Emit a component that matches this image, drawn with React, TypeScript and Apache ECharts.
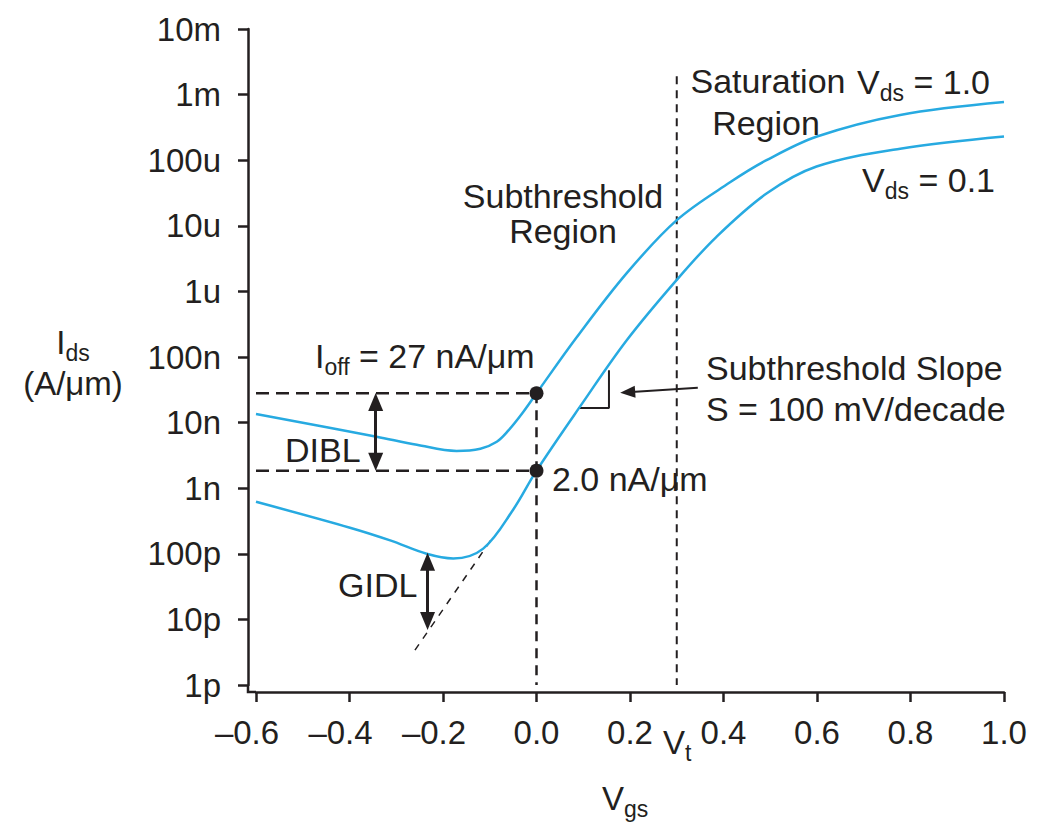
import React, { useEffect, useRef } from 'react';
import * as echarts from 'echarts';

// ---- data ----
const vgsVds10 = [-0.6, -0.342, -0.256, -0.171, -0.12, -0.085, -0.06, -0.03, 0, 0.086, 0.193, 0.3, 0.414, 0.492, 0.6, 0.778, 1.0];
const idsVds10 = [1.35e-8, 6.1e-9, 4.6e-9, 3.7e-9, 4.0e-9, 5.1e-9, 7.6e-9, 1.4e-8, 2.8e-8, 2.0e-7, 1.9e-6, 1.22e-5, 4.6e-5, 1.0e-4, 2.3e-4, 4.9e-4, 7.7e-4];

const vgsVds01 = [-0.6, -0.399, -0.313, -0.235, -0.178, -0.114, -0.05, 0, 0.093, 0.193, 0.3, 0.385, 0.492, 0.599, 0.778, 1.0];
const idsVds01 = [6.2e-10, 2.5e-10, 1.6e-10, 1.0e-10, 8.5e-11, 1.2e-10, 4.7e-10, 1.85e-9, 1.75e-8, 1.8e-7, 1.5e-6, 6.8e-6, 3.1e-5, 8.0e-5, 1.5e-4, 2.3e-4];

const yTickLabels = ['1p', '10p', '100p', '1n', '10n', '100n', '1u', '10u', '100u', '1m', '10m'];
const yMin = 1e-12;
const yMax = 1e-2;
const xMin = -0.6;
const xMax = 1.0;
const xStep = 0.2;

// annotation values (data space)
const iOffVds10 = 2.8e-8;
const iOffVds01 = 1.85e-9;
const vt = 0.3;
const vtTop = 1.9e-3;
const diblV = -0.344;
const gidlV = -0.233;
const gidlTop = 1.03e-10;
const gidlBottom = 6.9e-12;
const gidlTangentV = [-0.26, -0.098];
const gidlTangentI = [3.4e-12, 1.6e-10];
const slopeTriV = [0.089, 0.155, 0.155];
const slopeTriI = [1.67e-8, 1.67e-8, 6.3e-8];
const slopeArrowV = [0.345, 0.195];
const slopeArrowI = [3.4e-8, 2.9e-8];
// arrow heads are centred on the line ends: pull the ends in by half a head
const headInsetDecades = 0.135;

const FONT = '"Liberation Sans", Arial, Helvetica, sans-serif';
const INK = '#231f20';
const BLUE = '#27aae1';

const zip = (xs: number[], ys: number[]) => xs.map((x, i) => [x, ys[i]]);
const inset = (v: number, dir: number) => v * Math.pow(10, dir * headInsetDecades);

const subStyle = {
  fontSize: 23,
  lineHeight: 23,
  padding: [21, 0, 0, 0],
  verticalAlign: 'middle',
  fontFamily: FONT,
  fill: INK,
};

function txt(text: string, x: number, y: number, align: string = 'left', size: number = 34) {
  return {
    type: 'text',
    x,
    y,
    silent: true,
    style: {
      text,
      fontSize: size,
      fontFamily: FONT,
      fill: INK,
      align,
      verticalAlign: 'middle',
      rich: { s: subStyle },
    },
  };
}

export default function App() {
  const ref = useRef<HTMLDivElement>(null);

  useEffect(() => {
    if (!ref.current) return;
    const chart = echarts.init(ref.current, undefined, { renderer: 'svg' });

    const dashed = (name: string, data: number[][], dash: number[], width: number) => ({
      name,
      type: 'line',
      data,
      symbol: 'none',
      silent: true,
      lineStyle: { color: INK, width, type: dash },
      z: 3,
    });

    const option: any = {
      animation: false,
      backgroundColor: '#ffffff',
      grid: { left: 256, right: 36, top: 29, bottom: 137, containLabel: false },
      xAxis: {
        type: 'value',
        min: xMin,
        max: xMax,
        interval: xStep,
        offset: 7,
        splitLine: { show: false },
        axisLine: { show: true, onZero: false, lineStyle: { color: INK, width: 2.5 } },
        axisTick: { show: true, length: 10, lineStyle: { color: INK, width: 2.5 } },
        axisLabel: {
          margin: 24,
          fontSize: 33,
          fontFamily: FONT,
          color: INK,
          formatter: (v: number) => {
            const r = Math.round(v * 10) / 10;
            if (r < 0) return '\u2013' + Math.abs(r).toFixed(1) + '{p|}';
            return r.toFixed(1);
          },
          rich: { p: { width: 18 } },
        },
      },
      yAxis: {
        type: 'log',
        logBase: 10,
        min: yMin,
        max: yMax,
        interval: 1,
        splitNumber: 10,
        offset: 8,
        splitLine: { show: false },
        minorTick: { show: false },
        axisLine: { show: true, onZero: false, lineStyle: { color: INK, width: 2.5 } },
        axisTick: { show: true, length: 10, lineStyle: { color: INK, width: 2.5 } },
        axisLabel: {
          margin: 27,
          fontSize: 33,
          fontFamily: FONT,
          color: INK,
          formatter: (v: number) => yTickLabels[Math.round(Math.log10(v)) + 12] ?? '',
        },
      },
      series: [
        {
          name: 'Vds = 1.0',
          type: 'line',
          data: zip(vgsVds10, idsVds10),
          smooth: 0.35,
          symbol: 'none',
          lineStyle: { color: BLUE, width: 2.5 },
          z: 4,
        },
        {
          name: 'Vds = 0.1',
          type: 'line',
          data: zip(vgsVds01, idsVds01),
          smooth: 0.35,
          symbol: 'none',
          lineStyle: { color: BLUE, width: 2.5 },
          z: 4,
        },
        dashed('Ioff Vds=1.0', [[xMin, iOffVds10], [0, iOffVds10]], [13, 7], 2.5),
        dashed('Ioff Vds=0.1', [[xMin, iOffVds01], [0, iOffVds01]], [13, 7], 2.5),
        dashed('Vgs=0', [[0, iOffVds10], [0, yMin]], [10, 7], 2.5),
        dashed('Vt', [[vt, vtTop], [vt, yMin]], [8, 6], 2),
        {
          ...dashed('GIDL tangent', zip(gidlTangentV, gidlTangentI), [7, 7], 1.5),
          markLine: {
            silent: true,
            symbol: ['triangle', 'triangle'],
            symbolSize: [15, 18],
            label: { show: false },
            emphasis: { disabled: true },
            lineStyle: { color: INK, width: 3, type: 'solid' },
            data: [
              [{ coord: [diblV, inset(iOffVds10, -1)] }, { coord: [diblV, inset(iOffVds01, 1)] }],
              [{ coord: [gidlV, inset(gidlTop, -1)] }, { coord: [gidlV, inset(gidlBottom, 1)] }],
            ],
          },
        },
        {
          name: 'slope triangle',
          type: 'line',
          data: zip(slopeTriV, slopeTriI),
          symbol: 'none',
          silent: true,
          lineStyle: { color: INK, width: 2 },
          z: 3,
        },
        {
          name: 'slope arrow',
          type: 'line',
          data: [],
          symbol: 'none',
          silent: true,
          markLine: {
            silent: true,
            symbol: ['none', 'triangle'],
            symbolSize: [12, 15],
            label: { show: false },
            emphasis: { disabled: true },
            lineStyle: { color: INK, width: 1.8, type: 'solid' },
            data: [[{ coord: [slopeArrowV[0], slopeArrowI[0]] }, { coord: [slopeArrowV[1], slopeArrowI[1]] }]],
          },
        },
        {
          name: 'points',
          type: 'scatter',
          data: [[0, iOffVds10], [0, iOffVds01]],
          symbol: 'circle',
          symbolSize: 14,
          itemStyle: { color: INK, opacity: 1 },
          silent: true,
          z: 6,
        },
      ],
      graphic: [
        {
          type: 'polyline',
          silent: true,
          shape: { points: [[248, 685], [248, 692], [256, 692]] },
          style: { stroke: INK, lineWidth: 2.5, fill: 'none' },
        },
        txt('Saturation', 768, 81, 'center'),
        txt('Region', 766, 123, 'center'),
        txt('V{s|ds} = 1.0', 857, 82),
        txt('V{s|ds} = 0.1', 862, 180),
        txt('Subthreshold', 563, 196, 'center'),
        txt('Region', 563, 231, 'center'),
        txt('I{s|off} = 27 nA/\u03bcm', 315, 356),
        txt('DIBL', 285, 450),
        txt('2.0 nA/\u03bcm', 552, 479),
        txt('GIDL', 338, 585),
        txt('Subthreshold Slope', 706, 368),
        txt('S = 100 mV/decade', 706, 409),
        txt('I{s|ds}', 73, 342, 'center', 33),
        txt('(A/\u03bcm)', 73, 383, 'center', 33),
        txt('V{s|t}', 663, 742, 'left', 33),
        txt('V{s|gs}', 602, 798, 'left', 33),
      ],
    };

    chart.setOption(option);
    return () => chart.dispose();
  }, []);

  return (
    <div
      ref={ref}
      style={{ position: 'fixed', left: 0, top: 0, width: 1040, height: 822, background: '#fff' }}
    />
  );
}
